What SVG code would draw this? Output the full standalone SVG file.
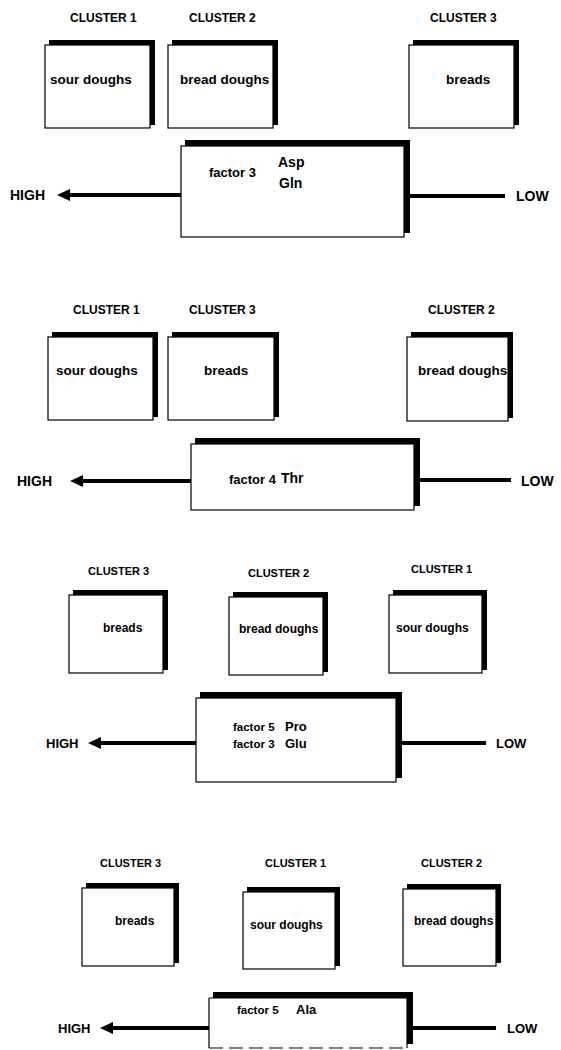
<svg xmlns="http://www.w3.org/2000/svg" width="561" height="1050" viewBox="0 0 561 1050">
<style>
text{font-family:"Liberation Sans",Arial,Helvetica,sans-serif;font-weight:bold;fill:#000}
.cl{font-size:12px}
.cs{font-size:11px}
.lb{font-size:13.5px}
.ls{font-size:12px}
.fa{font-size:13px}
.fs{font-size:11.5px}
.aa{font-size:14px}
.as{font-size:13px}
.hl{font-size:14px}
.hs{font-size:13px}
.sh{fill:#000}
.bx{fill:#fff;stroke:#000;stroke-width:1.2}
.ln{stroke:#000;stroke-width:4;fill:none}
</style>
<defs>
<marker id="ah" markerUnits="userSpaceOnUse" markerWidth="14" markerHeight="12" refX="2" refY="6" orient="auto">
<path d="M0,0 L13,6 L0,12 Z" fill="#000"/>
</marker>
</defs>
<rect width="561" height="1050" fill="#fff"/>

<!-- Panel 1 -->
<text class="cl" x="70" y="22">CLUSTER 1</text>
<text class="cl" x="189" y="22">CLUSTER 2</text>
<text class="cl" x="430" y="22">CLUSTER 3</text>
<g id="p1-cluster1">
<rect class="sh" x="49" y="40" width="106" height="85"/>
<rect class="bx" x="45" y="45" width="105" height="83"/>
<text class="lb" x="50" y="84">sour doughs</text>
</g>
<g id="p1-cluster2">
<rect class="sh" x="172" y="40" width="106" height="85"/>
<rect class="bx" x="168" y="45" width="105" height="83"/>
<text class="lb" x="180" y="84">bread doughs</text>
</g>
<g id="p1-cluster3">
<rect class="sh" x="413" y="40" width="106" height="85"/>
<rect class="bx" x="409" y="45" width="105" height="83"/>
<text class="lb" x="446" y="84">breads</text>
</g>
<g id="p1-factor">
<rect class="sh" x="185" y="140" width="225" height="93"/>
<rect class="bx" x="181" y="146" width="223" height="91"/>
<text class="fa" x="209" y="177">factor 3</text>
<text class="aa" x="278" y="167">Asp</text>
<text class="aa" x="279" y="188">Gln</text>
</g>
<g id="p1-high"><text class="hl" x="10" y="200">HIGH</text></g>
<g id="p1-low"><text class="hl" x="516" y="201">LOW</text></g>

<!-- Panel 2 -->
<text class="cl" x="73" y="314">CLUSTER 1</text>
<text class="cl" x="189" y="314">CLUSTER 3</text>
<text class="cl" x="428" y="314">CLUSTER 2</text>
<g id="p2-cluster1">
<rect class="sh" x="52" y="332" width="106" height="85"/>
<rect class="bx" x="48" y="337" width="105" height="83"/>
<text class="lb" x="56" y="375">sour doughs</text>
</g>
<g id="p2-cluster3">
<rect class="sh" x="172" y="332" width="107" height="85"/>
<rect class="bx" x="168" y="337" width="106" height="83"/>
<text class="lb" x="204" y="375">breads</text>
</g>
<g id="p2-cluster2">
<rect class="sh" x="411" y="332" width="102" height="86"/>
<rect class="bx" x="407" y="337" width="101" height="84"/>
<text class="lb" x="418" y="375">bread doughs</text>
</g>
<g id="p2-factor">
<rect class="sh" x="195" y="438" width="225" height="68"/>
<rect class="bx" x="191" y="444" width="223" height="66"/>
<text class="fa" x="229" y="484">factor 4</text>
<text class="aa" x="281" y="483">Thr</text>
</g>
<g id="p2-high"><text class="hl" x="17" y="486">HIGH</text></g>
<g id="p2-low"><text class="hl" x="521" y="486">LOW</text></g>

<!-- Panel 3 -->
<text class="cs" x="88" y="575">CLUSTER 3</text>
<text class="cs" x="248" y="577">CLUSTER 2</text>
<text class="cs" x="411" y="573">CLUSTER 1</text>
<g id="p3-cluster3">
<rect class="sh" x="73" y="590" width="95" height="80"/>
<rect class="bx" x="69" y="595" width="94" height="78"/>
<text class="ls" x="103" y="632">breads</text>
</g>
<g id="p3-cluster2">
<rect class="sh" x="233" y="592" width="95" height="80"/>
<rect class="bx" x="229" y="597" width="94" height="78"/>
<text class="ls" x="239" y="633">bread doughs</text>
</g>
<g id="p3-cluster1">
<rect class="sh" x="393" y="590" width="94" height="80"/>
<rect class="bx" x="389" y="595" width="93" height="78"/>
<text class="ls" x="396" y="632">sour doughs</text>
</g>
<g id="p3-factor">
<rect class="sh" x="200" y="692" width="202" height="86"/>
<rect class="bx" x="196" y="698" width="200" height="84"/>
<text class="fs" x="233" y="731">factor 5</text>
<text class="as" x="285" y="731">Pro</text>
<text class="fs" x="233" y="748">factor 3</text>
<text class="as" x="285" y="748">Glu</text>
</g>
<g id="p3-high"><text class="hs" x="46" y="748">HIGH</text></g>
<g id="p3-low"><text class="hs" x="496" y="748">LOW</text></g>

<!-- Panel 4 -->
<text class="cs" x="100" y="867">CLUSTER 3</text>
<text class="cs" x="265" y="867">CLUSTER 1</text>
<text class="cs" x="421" y="867">CLUSTER 2</text>
<g id="p4-cluster3">
<rect class="sh" x="86" y="883" width="93" height="80"/>
<rect class="bx" x="82" y="888" width="92" height="78"/>
<text class="ls" x="115" y="925">breads</text>
</g>
<g id="p4-cluster1">
<rect class="sh" x="247" y="887" width="93" height="79"/>
<rect class="bx" x="243" y="892" width="92" height="77"/>
<text class="ls" x="250" y="929">sour doughs</text>
</g>
<g id="p4-cluster2">
<rect class="sh" x="407" y="884" width="94" height="79"/>
<rect class="bx" x="403" y="889" width="93" height="77"/>
<text class="ls" x="414" y="925">bread doughs</text>
</g>
<g id="p4-factor">
<rect class="sh" x="213" y="992" width="200" height="52"/>
<rect x="209" y="998" width="198" height="50" fill="#fff"/>
<path d="M209,998 V1048 M209,998 H407 M407,998 V1048" stroke="#000" stroke-width="1.2" fill="none"/>
<path d="M209,1048 H407" stroke="#000" stroke-width="1.2" stroke-dasharray="14,6" fill="none"/>
<text class="fs" x="237" y="1014">factor 5</text>
<text class="as" x="296" y="1014">Ala</text>
</g>
<g id="p4-high"><text class="hs" x="58" y="1033">HIGH</text></g>
<g id="p4-low"><text class="hs" x="507" y="1033">LOW</text></g>

<g id="connectors">
<line class="ln" x1="181" y1="195" x2="68" y2="195" marker-end="url(#ah)"/>
<line class="ln" x1="410" y1="196" x2="505" y2="196"/>
<line class="ln" x1="191" y1="481" x2="81" y2="481" marker-end="url(#ah)"/>
<line class="ln" x1="420" y1="480" x2="511" y2="480"/>
<line class="ln" x1="196" y1="743" x2="99" y2="743" marker-end="url(#ah)"/>
<line class="ln" x1="402" y1="743" x2="486" y2="743"/>
<line class="ln" x1="209" y1="1028" x2="111" y2="1028" marker-end="url(#ah)"/>
<line class="ln" x1="408" y1="1028" x2="496" y2="1028"/>
</g>
</svg>
